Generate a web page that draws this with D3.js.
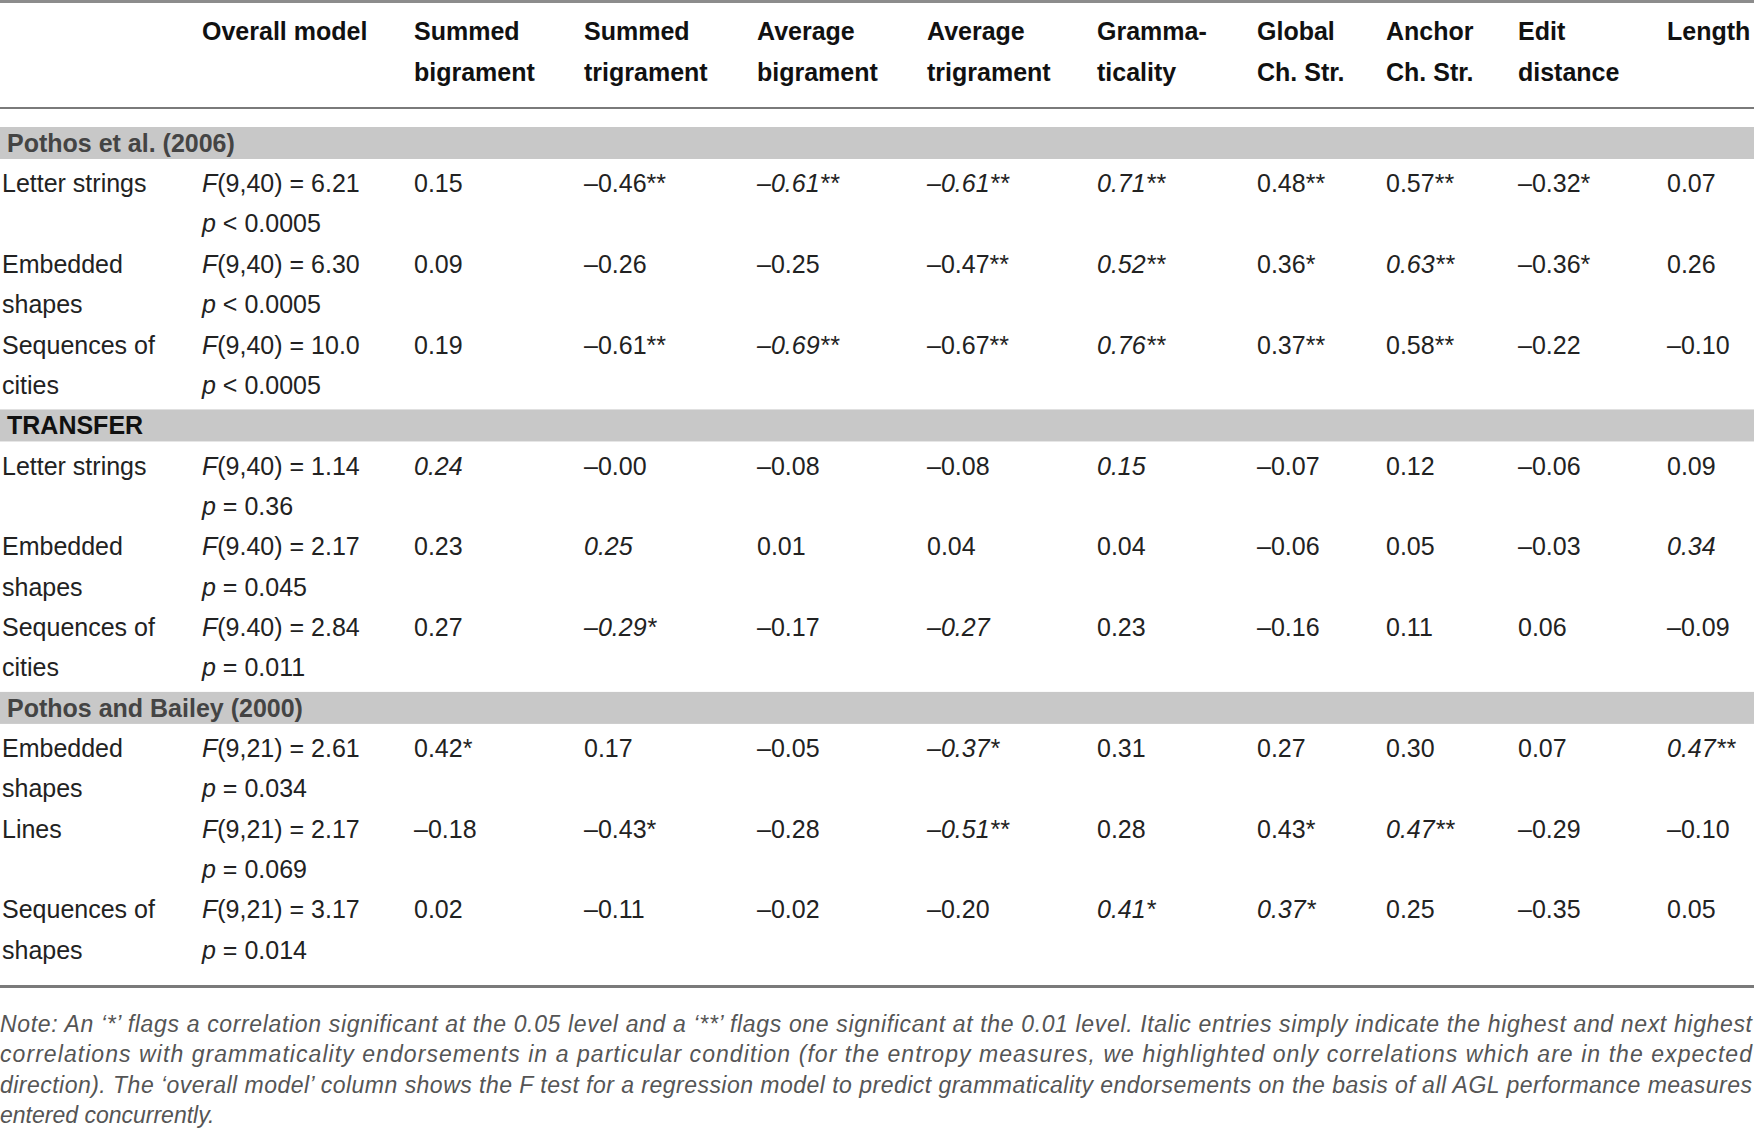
<!DOCTYPE html>
<html>
<head>
<meta charset="utf-8">
<script src="https://cdn.jsdelivr.net/npm/d3@7"></script>
<style>
  html, body { margin: 0; padding: 0; background: #fff; }
  svg { display: block; }
</style>
</head>
<body>
<div id="chart"></div>
<script>
// column headings, two lines each
const headers = [
    ["", ""],
    ["Overall model", ""],
    ["Summed", "bigrament"],
    ["Summed", "trigrament"],
    ["Average", "bigrament"],
    ["Average", "trigrament"],
    ["Gramma-", "ticality"],
    ["Global", "Ch. Str."],
    ["Anchor", "Ch. Str."],
    ["Edit", "distance"],
    ["Length", ""]
];

const groups = ["Pothos et al. (2006)", "TRANSFER", "Pothos and Bailey (2000)"];

const conditions = [
    ["Letter strings", ""], ["Embedded", "shapes"], ["Sequences of", "cities"],
    ["Letter strings", ""], ["Embedded", "shapes"], ["Sequences of", "cities"],
    ["Embedded", "shapes"], ["Lines", ""], ["Sequences of", "shapes"]
];
const conditionGroup = [0, 0, 0, 1, 1, 1, 2, 2, 2];

// overall model: F test and p value
const fTests = ["(9,40) = 6.21", "(9,40) = 6.30", "(9,40) = 10.0",
                "(9,40) = 1.14", "(9.40) = 2.17", "(9.40) = 2.84",
                "(9,21) = 2.61", "(9,21) = 2.17", "(9,21) = 3.17"];
const pValues = ["< 0.0005", "< 0.0005", "< 0.0005",
                 "= 0.36", "= 0.045", "= 0.011",
                 "= 0.034", "= 0.069", "= 0.014"];

// correlations, one row per condition
const correlations = [
    ["0.15", "–0.46**", "–0.61**", "–0.61**", "0.71**", "0.48**", "0.57**", "–0.32*", "0.07"],
    ["0.09", "–0.26", "–0.25", "–0.47**", "0.52**", "0.36*", "0.63**", "–0.36*", "0.26"],
    ["0.19", "–0.61**", "–0.69**", "–0.67**", "0.76**", "0.37**", "0.58**", "–0.22", "–0.10"],
    ["0.24", "–0.00", "–0.08", "–0.08", "0.15", "–0.07", "0.12", "–0.06", "0.09"],
    ["0.23", "0.25", "0.01", "0.04", "0.04", "–0.06", "0.05", "–0.03", "0.34"],
    ["0.27", "–0.29*", "–0.17", "–0.27", "0.23", "–0.16", "0.11", "0.06", "–0.09"],
    ["0.42*", "0.17", "–0.05", "–0.37*", "0.31", "0.27", "0.30", "0.07", "0.47**"],
    ["–0.18", "–0.43*", "–0.28", "–0.51**", "0.28", "0.43*", "0.47**", "–0.29", "–0.10"],
    ["0.02", "–0.11", "–0.02", "–0.20", "0.41*", "0.37*", "0.25", "–0.35", "0.05"]
];

// 1 = italic (highest / next highest correlation)
const italics = [
    [0, 0, 1, 1, 1, 0, 0, 0, 0],
    [0, 0, 0, 0, 1, 0, 1, 0, 0],
    [0, 0, 1, 0, 1, 0, 0, 0, 0],
    [1, 0, 0, 0, 1, 0, 0, 0, 0],
    [0, 1, 0, 0, 0, 0, 0, 0, 1],
    [0, 1, 0, 1, 0, 0, 0, 0, 0],
    [0, 0, 0, 1, 0, 0, 0, 0, 1],
    [0, 0, 0, 1, 0, 0, 1, 0, 0],
    [0, 0, 0, 0, 1, 1, 0, 0, 0]
];

const noteLines = [
    "Note: An \u2018*\u2019 flags a correlation significant at the 0.05 level and a \u2018**\u2019 flags one significant at the 0.01 level. Italic entries simply indicate the highest and next highest",
    "correlations with grammaticality endorsements in a particular condition (for the entropy measures, we highlighted only correlations which are in the expected",
    "direction). The \u2018overall model\u2019 column shows the F test for a regression model to predict grammaticality endorsements on the basis of all AGL performance measures",
    "entered concurrently."
];

const width = 1754, height = 1129;
const font = "'Liberation Sans', Arial, Helvetica, sans-serif";
const fontSize = 25;

const svg = d3.select("#chart")
    .append("svg")
    .attr("width", width)
    .attr("height", height)
    .style("font-family", font);

const colX = d3.scaleOrdinal()
    .domain(d3.range(headers.length))
    .range([2, 202, 414, 584, 757, 927, 1097, 1257, 1386, 1518, 1667]);

// every table line (band or text line) sits on this scale
const lineY = d3.scaleLinear().domain([0, 20]).range([143, 950]);

// top rule
svg.append("rect").attr("x", 0).attr("y", 0).attr("width", width).attr("height", 3).attr("fill", "#8c8c8c");

// header
headers.forEach((h, i) => {
    h.forEach((t, j) => {
        if (!t) return;
        svg.append("text")
            .attr("x", colX(i))
            .attr("y", 31 + j * 41)
            .attr("dy", "0.35em")
            .attr("font-size", fontSize)
            .attr("font-weight", "bold")
            .attr("fill", "#111")
            .text(t);
    });
});

svg.append("rect").attr("x", 0).attr("y", 107).attr("width", width).attr("height", 2).attr("fill", "#7a7a7a");

// body
let line = 0;
conditions.forEach((cond, r) => {
    const g = conditionGroup[r];
    if (r === 0 || conditionGroup[r - 1] !== g) {
        const yb = lineY(line);
        svg.append("rect")
            .attr("class", "band")
            .attr("x", 0)
            .attr("y", yb - 16)
            .attr("width", width)
            .attr("height", 32)
            .attr("fill", "#c8c8c8");
        svg.append("text")
            .attr("x", 7)
            .attr("y", yb)
            .attr("dy", "0.35em")
            .attr("font-size", fontSize)
            .attr("font-weight", "bold")
            .attr("fill", g === 1 ? "#111" : "#444")
            .text(groups[g]);
        line++;
    }

    const y1 = lineY(line), y2 = lineY(line + 1);

    cond.forEach((t, j) => {
        if (!t) return;
        svg.append("text")
            .attr("x", colX(0))
            .attr("y", j === 0 ? y1 : y2)
            .attr("dy", "0.35em")
            .attr("font-size", fontSize)
            .attr("fill", "#222")
            .text(t);
    });

    const ft = svg.append("text")
        .attr("x", colX(1)).attr("y", y1).attr("dy", "0.35em")
        .attr("font-size", fontSize).attr("fill", "#222");
    ft.append("tspan").attr("font-style", "italic").text("F");
    ft.append("tspan").text(fTests[r]);

    const pt = svg.append("text")
        .attr("x", colX(1)).attr("y", y2).attr("dy", "0.35em")
        .attr("font-size", fontSize).attr("fill", "#222");
    pt.append("tspan").attr("font-style", "italic").text("p");
    pt.append("tspan").text(" " + pValues[r]);

    svg.selectAll(null)
        .data(correlations[r].map((v, c) => ({ v, c, it: italics[r][c] })))
        .enter()
        .append("text")
        .attr("class", "cell")
        .attr("x", d => colX(d.c + 2))
        .attr("y", y1)
        .attr("dy", "0.35em")
        .attr("font-size", fontSize)
        .attr("font-style", d => d.it ? "italic" : "normal")
        .attr("fill", "#222")
        .text(d => d.v);

    line += 2;
});

// bottom rule
svg.append("rect").attr("x", 0).attr("y", 985).attr("width", width).attr("height", 3).attr("fill", "#7a7a7a");

// note, justified except last line
noteLines.forEach((t, i) => {
    const tx = svg.append("text")
        .attr("x", 0)
        .attr("y", 1023.5 + i * 30.6)
        .attr("dy", "0.35em")
        .attr("font-size", 23)
        .attr("font-style", "italic")
        .attr("fill", "#555")
        .text(t);
    if (i < noteLines.length - 1) {
        tx.attr("textLength", width - 2).attr("lengthAdjust", "spacing");
    }
});
</script>
</body>
</html>
